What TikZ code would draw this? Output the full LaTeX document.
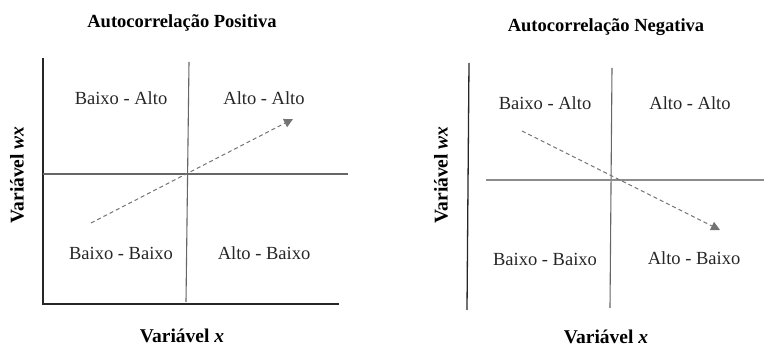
\documentclass[tikz,border=0pt]{standalone}
\usepackage{fontspec}
\setmainfont{Liberation Serif}
\usetikzlibrary{arrows.meta}

\begin{document}
\begin{tikzpicture}[
                x=1pt,y=-1pt,
                eixo/.style={line width=1.3pt,black!85},
                divisor/.style={line width=1.1pt,black!60},
                seta/.style={line width=1pt,black!55,dashed,dash pattern=on 4pt off 3pt,-{Triangle[length=9pt,width=9pt]}},
                quadrante/.style={font=\fontsize{18.5}{21}\selectfont,text=black!85},
                titulo/.style={font=\fontsize{18.5}{21}\selectfont\bfseries},
                rotulo/.style={font=\fontsize{19.5}{22}\selectfont\bfseries},
                ]
                \useasboundingbox (0,0) rectangle (764,347);

                % positiva
                \node[titulo] (tPos) at (182,23) {Autocorrelação Positiva};
                \coordinate (aTop) at (43,58);
                \coordinate (aOrig) at (43,304);
                \coordinate (aEnd) at (339,304);
                \coordinate (vTop) at (189,62);
                \coordinate (vBot) at (186,302);
                \coordinate (hL) at (43,174);
                \coordinate (hR) at (348,174);
                \coordinate (sIni) at (91,223);
                \coordinate (sFim) at (293,119);
                \draw[eixo] (aTop) -- (aOrig) -- (aEnd);
                \draw[divisor] (vTop) -- (vBot);
                \draw[divisor] (hL) -- (hR);
                \draw[seta] (sIni) -- (sFim);
                \node[quadrante] (baPos) at (121,98) {Baixo - Alto};
                \node[quadrante] (aaPos) at (264,98) {Alto - Alto};
                \node[quadrante] (bbPos) at (121,253) {Baixo - Baixo};
                \node[quadrante] (abPos) at (264,253) {Alto - Baixo};
                \node[rotulo,rotate=90] (yPos) at (17,175) {Variável \textit{wx}};
                \node[rotulo,anchor=base] (xPos) at (182,343) {Variável \textit{x}};

                % negativa
                \node[titulo] (tNeg) at (606,27) {Autocorrelação Negativa};
                \coordinate (bTop) at (469,63);
                \coordinate (bBot) at (467,310);
                \coordinate (wTop) at (612,68);
                \coordinate (wBot) at (610,308);
                \coordinate (gL) at (486,180);
                \coordinate (gR) at (764,180);
                \coordinate (tIni) at (522,131);
                \coordinate (tFim) at (720,230);
                \draw[eixo] (bTop) -- (bBot);
                \draw[divisor] (wTop) -- (wBot);
                \draw[divisor,black!45] (gL) -- (gR);
                \draw[seta] (tIni) -- (tFim);
                \node[quadrante] (baNeg) at (545,103) {Baixo - Alto};
                \node[quadrante] (aaNeg) at (690,103) {Alto - Alto};
                \node[quadrante] (bbNeg) at (545,259) {Baixo - Baixo};
                \node[quadrante] (abNeg) at (694,258) {Alto - Baixo};
                \node[rotulo,rotate=90] (yNeg) at (441,175) {Variável \textit{wx}};
                \node[rotulo,anchor=base] (xNeg) at (606,344) {Variável \textit{x}};
            \end{tikzpicture}
\end{document}
